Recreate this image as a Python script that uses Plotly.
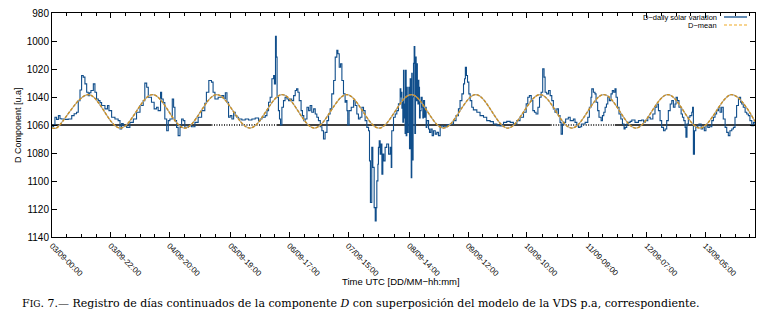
import plotly.graph_objects as go

# ---------------- data ----------------
# time in hours since 03/09 00:00 UTC
time_h = [0, 0.6, 1.1, 1.7, 2.4, 3.0, 3.6, 4.8, 6.1, 7.4, 8.3, 9.2, 9.85, 10.5, 11.1, 11.7, 12.35, 13.0, 13.6, 14.1,
          14.6, 15.5, 16.1, 16.7, 17.35, 18.0, 18.6, 19.85, 20.8, 21.35, 22.35, 23.6, 24.8, 25.5, 26.1, 26.7, 28.0,
          29.2, 30.5, 31.7, 33.0, 34.2, 34.8, 35.5, 36.1, 37.3, 38.3, 39.2, 39.8, 40.7, 41.1, 41.7, 42.3, 43.0, 43.6,
          44.2, 45.1, 45.6, 46.1, 46.7, 47.3, 48.0, 48.6, 49.2, 49.8, 51.1, 52.3, 53.6, 54.8, 56.1, 57.3, 57.9, 58.8,
          59.8, 60.4, 61.1, 62.3, 63.6, 64.4, 65.0,
          65.6, 66.2, 66.8, 67.45, 68.1, 68.7, 69.3, 69.95, 71.2, 72.45, 73.7, 74.95, 76.2, 77.45, 78.1, 78.7, 79.95,
          80.6, 81.2, 81.8, 82.45, 83.1, 83.4, 83.8, 84.1, 84.4, 84.9, 85.3, 85.7, 86.2, 86.8, 87.4, 88.1, 88.7, 89.3,
          89.9, 90.6, 91.2, 91.7, 92.2, 92.7, 93.4, 93.9, 94.4, 94.9, 95.6, 96.2, 96.8, 97.4, 98.1, 98.7, 99.3, 99.9,
          100.6, 101.2, 101.8, 102.4, 103.1, 103.7, 104.3, 104.9, 105.6, 106.2, 106.8, 107.2, 107.7, 108.2, 108.7,
          109.3, 109.9, 110.2, 110.6, 110.9, 111.4, 112.2, 113.1, 113.7, 114.3, 114.9, 115.5, 116.2, 116.8, 117.4,
          118.05, 118.7, 119.05, 119.4, 119.9, 120.3, 120.8, 121.2, 121.55, 121.8, 122.2, 122.4, 122.7, 123.05, 123.4,
          123.7, 124.05, 124.4, 124.9, 125.5, 126.2, 126.8, 127.2, 127.4, 128.05, 128.7, 129.3, 129.9,
          130.55, 130.8, 131.0, 131.2, 131.4, 131.55, 131.8, 132.0, 132.2, 132.4, 132.55, 132.8, 133.05, 133.2, 133.4,
          133.6, 133.8, 134.05, 134.3, 134.5, 134.7, 134.9, 135.05, 135.2, 135.4, 135.55, 135.8, 136.05, 136.3,
          136.55, 136.8, 137.0, 137.2, 137.4, 137.55, 137.8, 138.05, 138.4, 138.8, 139.05, 139.3, 139.7, 140.05,
          140.3, 140.55, 141.2, 141.55, 142.05, 142.55, 143.05, 143.7, 144.3, 144.9, 145.55, 146.2, 146.8, 148.05,
          149.3, 150.55, 151.5, 152.4, 153.0, 153.7, 154.3, 154.7, 155.0, 155.4, 155.8, 156.3, 156.8, 157.4, 158.0,
          159.3, 160.5, 161.8, 163.0, 164.3, 165.5, 166.8, 168.0, 169.3, 170.5, 171.8, 173.0, 174.3, 175.5, 176.8,
          177.8, 178.4, 179.0, 179.7, 180.3, 180.9, 181.5, 182.2, 182.8, 183.4, 184.0, 184.5, 184.9, 185.5, 186.2,
          186.8, 187.4, 188.0, 188.6, 189.3, 189.9, 190.5, 190.9, 191.4, 192.0, 192.6, 193.6, 194.3, 194.9, 195.5,
          196.1, 196.8, 197.4, 198.0, 198.6,
          199.9, 200.9, 201.5, 202.1, 202.4, 203.0, 203.6, 204.0, 204.6, 205.1, 205.9, 206.4, 206.9, 207.4, 207.9,
          208.4, 209.0, 209.6, 210.1, 210.6, 211.1, 211.5, 212.0, 212.6, 213.3, 213.9, 214.5, 214.9, 215.5, 216.1,
          216.8, 217.4, 218.6, 219.9, 221.1, 221.8, 222.4, 223.4, 224.3, 225.3, 226.1, 226.8, 227.4, 228.0, 228.6,
          229.3, 229.9, 230.5, 231.1, 231.8, 232.4, 233.0, 233.6, 234.0, 234.5, 235.1, 235.9, 236.4, 236.9, 237.4,
          237.7, 238.1, 238.6, 239.2, 239.9, 240.2, 240.5, 240.9, 241.4, 242.1, 242.6, 243.4, 244.0, 244.6, 245.2,
          245.9, 246.5, 247.4, 248.0, 248.6, 249.2, 249.9, 250.5, 251.1, 251.7, 252.4, 253.0, 253.6, 254.2, 254.9,
          255.5, 256.1, 256.7, 257.4, 257.7, 258.2, 258.6, 259.2, 259.9, 260.5, 261.1, 261.7, 262.4, 263.0, 263.6]

d_values = [1061.2, 1060.0, 1054.5, 1056.0, 1053.3, 1055.5, 1055.7, 1056.0, 1055.7, 1053.3, 1052.0, 1050.9, 1042.6,
            1035.0, 1024.6, 1025.8, 1030.6, 1036.6, 1039.0, 1037.0, 1035.4, 1030.6, 1036.6, 1041.4, 1042.6, 1044.0,
            1046.1, 1048.5, 1046.1, 1049.7, 1054.5, 1055.7, 1056.9, 1062.9, 1059.0, 1060.5, 1061.7, 1058.1, 1055.7,
            1050.9, 1046.1, 1042.6, 1030.1, 1033.0, 1040.2, 1043.8, 1048.5, 1047.3, 1049.7, 1036.6, 1041.4, 1044.0,
            1055.7, 1064.1, 1056.9, 1055.7, 1041.4, 1047.3, 1056.9, 1061.7, 1067.6, 1061.7, 1055.7, 1056.9, 1061.7,
            1060.5, 1061.2, 1058.1, 1054.5, 1049.7, 1044.5, 1036.6, 1028.2, 1029.4, 1036.6, 1041.4, 1040.2, 1039.0,
            1041.0, 1037.0,
            1043.8, 1054.5, 1053.3, 1055.7, 1050.9, 1053.3, 1054.5, 1055.7, 1056.4, 1055.7, 1056.4, 1055.7, 1055.0,
            1056.9, 1055.7, 1054.5, 1053.3, 1049.7, 1043.8, 1040.2, 1027.0, 1024.6, 1030.6, 996.7, 1011.5, 1040.2,
            1049.7, 1055.7, 1060.0, 1047.3, 1042.6, 1040.2, 1041.4, 1042.6, 1041.4, 1042.6, 1039.0, 1035.4, 1034.2,
            1036.6, 1042.6, 1049.7, 1053.3, 1056.9, 1055.7, 1047.3, 1049.7, 1046.1, 1050.9, 1048.5, 1052.1, 1054.5,
            1056.9, 1061.2, 1064.1, 1070.0, 1065.3, 1056.9, 1052.1, 1048.5, 1037.8, 1028.2, 1011.5, 1006.7, 1009.1,
            1018.7, 1016.3, 1028.2, 1037.8, 1043.8, 1042.6, 1049.7, 1060.0, 1049.7, 1047.3, 1042.6, 1046.1, 1052.1,
            1055.7, 1054.5, 1047.3, 1049.7, 1056.9, 1061.7, 1064.1, 1085.6, 1115.4, 1076.0, 1090.3, 1119.0, 1128.6,
            1119.0, 1099.9, 1088.0, 1076.0, 1071.2, 1080.8, 1073.6, 1095.1, 1080.8, 1085.6, 1076.0, 1073.6, 1080.8,
            1076.0, 1090.3, 1064.1, 1054.5, 1052.1, 1049.7, 1044.9,
            1034.2, 1040.0, 1036.6, 1048.0, 1042.6, 1058.0, 1021.0, 1055.0, 1045.0, 1066.0, 1021.0, 1067.6, 1033.0,
            1058.0, 1065.3, 1040.0, 1033.0, 1077.0, 1027.0, 1062.0, 1097.6, 1023.0, 1072.0, 1085.0, 1040.0, 1016.0,
            1004.0, 1066.0, 1011.5, 1042.6, 1016.3, 1035.0, 1045.0, 1028.0, 1033.0, 1055.0, 1049.7, 1040.2, 1047.3,
            1055.0, 1042.6, 1054.5, 1047.3, 1061.7, 1056.9, 1062.9, 1065.3, 1062.9, 1067.6, 1064.1, 1066.5, 1065.3,
            1067.6, 1061.7, 1060.5, 1061.2, 1059.8, 1059.3, 1056.9, 1053.3, 1048.5, 1042.6, 1037.8, 1030.6, 1027.0,
            1018.7, 1024.6, 1029.4, 1037.8, 1042.6, 1047.3, 1049.2, 1050.9, 1053.3, 1054.5, 1056.9, 1057.6, 1059.3,
            1060.5, 1060.7, 1058.1, 1057.4, 1058.1, 1059.3, 1056.9, 1054.5, 1050.9, 1044.9, 1040.2, 1039.0, 1042.6,
            1049.7, 1050.9, 1052.1, 1047.3, 1040.2, 1036.6, 1019.9, 1025.8, 1036.6, 1037.8, 1035.4, 1039.0, 1042.6,
            1048.5, 1050.9, 1048.5, 1053.3, 1058.1, 1066.5, 1059.3, 1058.1, 1055.7, 1054.5, 1056.9, 1056.9, 1055.7,
            1058.1, 1060.5, 1061.7, 1061.2, 1059.3,
            1058.1, 1054.5, 1047.3, 1040.2, 1034.2, 1036.6, 1037.8, 1043.8, 1049.7, 1054.5, 1056.9, 1053.3, 1050.9,
            1047.3, 1045.0, 1040.2, 1042.6, 1037.8, 1035.4, 1036.6, 1034.2, 1040.2, 1047.3, 1052.1, 1055.7, 1059.3,
            1062.9, 1061.7, 1059.3, 1058.1, 1057.4, 1056.4, 1058.1, 1056.9, 1056.4, 1058.1, 1056.9, 1054.5, 1055.7,
            1052.1, 1047.3, 1045.0, 1049.7, 1056.9, 1061.7, 1064.1, 1062.9, 1056.9, 1049.7, 1045.0, 1042.6, 1047.3,
            1045.0, 1040.2, 1042.6, 1047.3, 1052.1, 1054.5, 1056.9, 1061.7, 1068.8, 1059.3, 1054.5, 1053.3, 1050.9,
            1047.3, 1080.8, 1064.1, 1061.7, 1060.5, 1059.3, 1062.9, 1061.7, 1064.1, 1060.5, 1061.7, 1061.2, 1056.9,
            1054.5, 1052.1, 1049.7, 1047.3, 1050.9, 1047.3, 1055.7, 1061.7, 1065.3, 1067.6, 1064.1, 1062.9, 1061.7,
            1054.5, 1046.1, 1041.4, 1040.2, 1043.8, 1045.0, 1047.3, 1050.9, 1052.1, 1053.3, 1056.9, 1060.5, 1058.1,
            1059.3]

# D-mean model: extremes (alternating troughs / crests)
mean_t = [0, 1.6, 13.6, 25.6, 37.7, 49.8, 61.8, 74.2, 86.3, 98.4, 110.5, 122.6, 134.7, 146.8, 158.9, 170.9,
          183.0, 194.9, 206.9, 218.9, 230.9, 242.9, 254.9, 263.6]
mean_v = [1062.0, 1062.2, 1038.3, 1062.2, 1038.3, 1062.2, 1038.3, 1062.2, 1038.3, 1062.2, 1038.3, 1062.2, 1038.3,
          1062.2, 1038.3, 1062.2, 1038.3, 1062.2, 1038.3, 1062.2, 1038.3, 1062.2, 1038.3, 1057.5]

# reference level
base_level = 1060
base_solid_t = [0, 59.8, None, 84.3, 187.0, None, 211.1, 263.6]
base_dotted_t = [59.8, 84.3, None, 187.0, 211.1]

tick_labels = ["03/09-00:00", "03/09-22:00", "04/09-20:00", "05/09-19:00", "06/09-17:00", "07/09-15:00",
               "08/09-14:00", "09/09-12:00", "10/09-10:00", "11/09-09:00", "12/09-07:00", "13/09-05:00"]

x_end = 263.6

# ---------------- figure ----------------
tick_vals = [(int(s[0:2]) - 3) * 24 + int(s[6:8]) for s in tick_labels]
minor_vals = []
for a, b in zip(tick_vals, tick_vals[1:] + [tick_vals[-1] + 22.27]):
    for k in (1, 2, 3):
        v = a + (b - a) * k / 4
        if v < x_end:
            minor_vals.append(v)

fig = go.Figure()
fig.add_trace(go.Scatter(x=base_solid_t, y=[base_level if t is not None else None for t in base_solid_t],
                         mode="lines", line=dict(color="black", width=1.5), showlegend=False, hoverinfo="skip"))
fig.add_trace(go.Scatter(x=base_dotted_t, y=[base_level if t is not None else None for t in base_dotted_t],
                         mode="lines", line=dict(color="black", width=1.3, dash="1px,1.5px"),
                         showlegend=False, hoverinfo="skip"))
fig.add_trace(go.Scatter(x=time_h, y=d_values, mode="lines", name="D\u2212daily solar variation",
                         line=dict(color="#104E8B", width=1.1, shape="hv"), showlegend=False))
fig.add_trace(go.Scatter(x=mean_t, y=mean_v, mode="lines", showlegend=False, hoverinfo="skip",
                         line=dict(color="#a8a8a8", width=1.2, shape="spline")))
fig.add_trace(go.Scatter(x=mean_t, y=mean_v, mode="lines", name="D\u2212mean", showlegend=False,
                         line=dict(color="#cc9020", width=1.4, shape="spline", dash="3px,1.5px")))

L, R, T, B = 52, 19, 13, 90
pw = 774 - L - R
ph = 327 - T - B


def px(xp):
    return (xp - L) / pw


def py(yp):
    return 1 - (yp - T) / ph


axis_common = dict(showline=True, linecolor="black", linewidth=1, mirror="allticks", ticks="inside",
                   ticklen=5, tickcolor="black", tickwidth=1, showgrid=False, zeroline=False,
                   automargin=False)

fig.update_layout(
    width=774, height=327,
    margin=dict(l=L, r=R, t=T, b=B, autoexpand=False),
    paper_bgcolor="white", plot_bgcolor="white",
    font=dict(family="Liberation Sans, Arial, sans-serif", color="black"),
    xaxis=dict(range=[0, x_end], tickmode="array", tickvals=tick_vals, ticktext=tick_labels,
               tickangle=45, tickfont=dict(size=8, color="black"),
               minor=dict(tickmode="array", tickvals=minor_vals, ticks="inside", ticklen=3,
                          tickcolor="black", showgrid=False),
               **axis_common),
    yaxis=dict(range=[1140, 980], tickmode="linear", tick0=980, dtick=20, tickfont=dict(size=10),
               **axis_common),
    showlegend=False,
    hovermode=False,
)

annotations = [
    dict(text="D Component [u.a]", x=px(18), y=py(125), xref="paper", yref="paper", textangle=-90,
         showarrow=False, xanchor="center", yanchor="middle", font=dict(size=9)),
    dict(text="Time UTC [DD/MM\u2212hh:mm]", x=px(401), y=py(281), xref="paper", yref="paper",
         showarrow=False, xanchor="center", yanchor="middle", font=dict(size=9.5)),
    dict(text="D\u2212daily solar variation", x=px(719), y=py(17), xref="paper", yref="paper",
         showarrow=False, xanchor="right", yanchor="middle", font=dict(size=7.5)),
    dict(text="D\u2212mean", x=px(719), y=py(25), xref="paper", yref="paper",
         showarrow=False, xanchor="right", yanchor="middle", font=dict(size=7.5)),
    dict(text="F<span style='font-size:9px'>IG</span>. 7.\u2014 Registro de d\u00edas continuados de la componente "
              "<i>D</i> con superposici\u00f3n del modelo de la VDS p.a, correspondiente.",
         x=px(20), y=py(303), xref="paper", yref="paper", showarrow=False, xanchor="left", yanchor="middle",
         font=dict(family="DejaVu Serif, serif", size=11)),
]
fig.update_layout(annotations=annotations)

fig.add_shape(type="line", xref="paper", yref="paper", x0=px(724), x1=px(747), y0=py(17), y1=py(17),
              line=dict(color="#104E8B", width=1.3))
fig.add_shape(type="line", xref="paper", yref="paper", x0=px(724), x1=px(747), y0=py(25), y1=py(25),
              line=dict(color="#f5c66e", width=1.5, dash="3px,2px"))

fig.write_html("out.html", config={"displayModeBar": False, "staticPlot": True},
               post_script="document.body.style.margin='0';document.body.style.padding='0';")
